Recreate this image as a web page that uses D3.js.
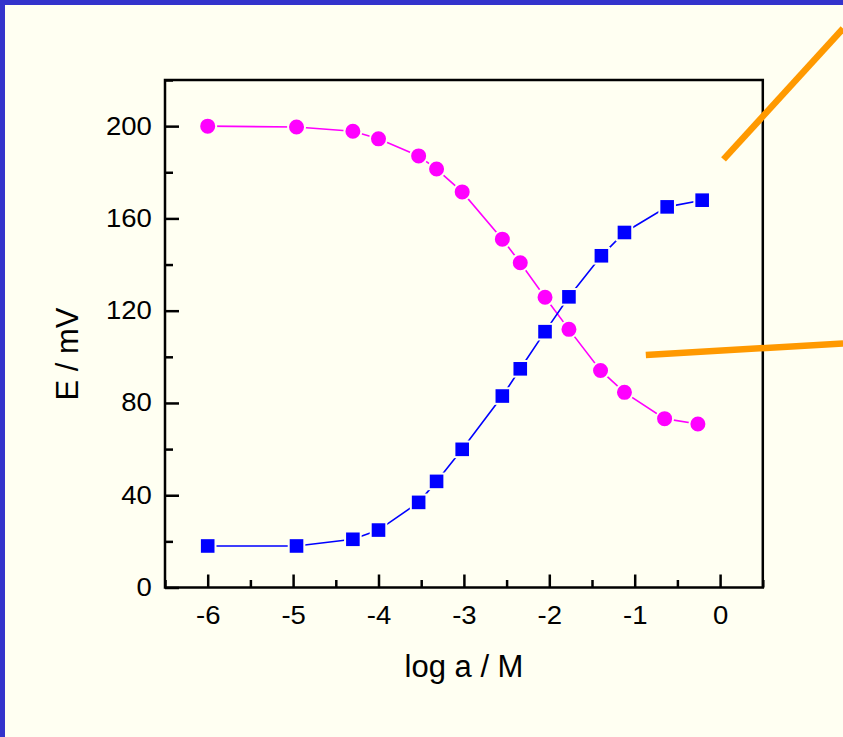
<!DOCTYPE html>
<html>
<head>
<meta charset="utf-8">
<script src="https://cdn.jsdelivr.net/npm/d3@7"></script>
<style>
  body { margin: 0; background: #fffff2; }
  svg { display: block; }
  text { font-family: Arial, "Liberation Sans", sans-serif; fill: #000; }
</style>
</head>
<body>
<svg id="chart" width="843" height="737"></svg>
<script>
// log activity (x) and potential E / mV for the two electrodes
var xMagenta = [-6, -4.96, -4.3, -4.0, -3.53, -3.32, -3.02, -2.55, -2.34, -2.05, -1.77, -1.4, -1.12, -0.65, -0.26]
var yMagenta = [200, 199.6, 197.8, 194.5, 187.1, 181.4, 171.5, 151, 140.8, 125.8, 111.9, 94.1, 84.6, 73.2, 70.9]

var xBlue = [-6, -4.96, -4.3, -4.0, -3.53, -3.32, -3.02, -2.55, -2.34, -2.05, -1.77, -1.39, -1.12, -0.62, -0.21]
var yBlue = [18, 18, 20.9, 24.9, 36.9, 46, 59.9, 83, 94.8, 110.9, 126, 143.8, 153.9, 165, 167.9]

var xTicks = [-6, -5, -4, -3, -2, -1, 0]
var xMinorTicks = [-6.5, -5.5, -4.5, -3.5, -2.5, -1.5, -0.5, 0.5]
var yTicks = [0, 40, 80, 120, 160, 200]
var yMinorTicks = [20, 60, 100, 140, 180, 220]

// orange pointer lines (in data units)
var pointers = [
    [[0.04, 185.6], [1.44, 242.3]],
    [[-0.87, 100.8], [1.44, 105.8]]
]

function drawChart()
{
    var svg = d3.select("#chart")
    const bg = "#fffff2"

    // blue frame of the slide (top and left only, the picture is cropped)
    svg.append("rect").attr("x", 0).attr("y", 0).attr("width", 843).attr("height", 5).style("fill", "#3333cc")
    svg.append("rect").attr("x", 0).attr("y", 0).attr("width", 5).attr("height", 737).style("fill", "#3333cc")

    const left = 165, right = 762.8, top = 80, bottom = 587.5

    var xScale = d3.scaleLinear().domain([-6.5, 0.5]).range([left, right])
    var yScale = d3.scaleLinear().domain([0, 220]).range([bottom, top])

    // plain hyphen for negatives, like the original
    var fmt = function (d) { return String(d) }

    // x axis, ticks pointing inward
    svg.append("g")
        .attr("transform", `translate(0, ${bottom})`)
        .call(d3.axisBottom(xScale).tickValues(xTicks).tickSizeInner(-13).tickSizeOuter(0).tickPadding(19).tickFormat(fmt))
    svg.append("g")
        .attr("transform", `translate(0, ${bottom})`)
        .call(d3.axisBottom(xScale).tickValues(xMinorTicks).tickSizeInner(-7.5).tickSizeOuter(0).tickFormat(""))

    var yAxis = svg.append("g")
        .attr("transform", `translate(${left}, 0)`)
        .call(d3.axisLeft(yScale).tickValues(yTicks).tickSizeInner(-14).tickSizeOuter(0).tickPadding(12).tickFormat(fmt))
    svg.append("g")
        .attr("transform", `translate(${left}, 0)`)
        .call(d3.axisLeft(yScale).tickValues(yMinorTicks).tickSizeInner(-8).tickSizeOuter(0).tickFormat(""))

    svg.selectAll(".domain").remove()
    svg.selectAll(".tick line").style("stroke", "#000").style("stroke-width", 2.5)
    svg.selectAll(".tick text")
        .style("font-size", "25px")
        .style("font-family", "Arial, 'Liberation Sans', sans-serif")
        .attr("transform", "scale(1.1, 1)")

    // frame
    svg.append("rect")
        .attr("x", left).attr("y", top)
        .attr("width", right - left).attr("height", bottom - top)
        .style("fill", "none").style("stroke", "#000").style("stroke-width", 2.5)

    // axis titles
    svg.append("text")
        .attr("text-anchor", "middle")
        .attr("x", 464)
        .attr("y", 677)
        .style("font-size", "31px")
        .text("log a / M")

    svg.append("g")
        .attr("transform", "translate(78, 354)")
        .append("text")
        .attr("text-anchor", "middle")
        .attr("transform", "rotate(-90)")
        .style("font-size", "31px")
        .text("E / mV")

    var magenta = xMagenta.map(function (x, i) { return {x: x, y: yMagenta[i]} })
    var blue = xBlue.map(function (x, i) { return {x: x, y: yBlue[i]} })

    var line = d3.line()
        .x(function (d) { return xScale(d.x) })
        .y(function (d) { return yScale(d.y) })

    svg.append("path").attr("d", line(magenta))
        .style("fill", "none").style("stroke", "#ff00ff").style("stroke-width", 1.6)
    svg.append("path").attr("d", line(blue))
        .style("fill", "none").style("stroke", "#0000ff").style("stroke-width", 1.6)

    svg.selectAll(".circ").data(magenta).enter().append("circle")
        .attr("class", "circ")
        .attr("cx", (d) => xScale(d.x))
        .attr("cy", (d) => yScale(d.y))
        .attr("r", 8.5)
        .style("fill", "#ff00ff").style("stroke", bg).style("stroke-width", 2)

    svg.selectAll(".sq").data(blue).enter().append("rect")
        .attr("class", "sq")
        .attr("x", (d) => xScale(d.x) - 7.8)
        .attr("y", (d) => yScale(d.y) - 7.8)
        .attr("width", 15.6).attr("height", 15.6)
        .style("fill", "#0000ff").style("stroke", bg).style("stroke-width", 2)

    // orange pointers
    var pointerLine = d3.line()
        .x(function (d) { return xScale(d[0]) })
        .y(function (d) { return yScale(d[1]) })
    svg.selectAll(".pointer").data(pointers).enter().append("path")
        .attr("class", "pointer")
        .attr("d", (d) => pointerLine(d))
        .style("fill", "none").style("stroke", "#ff9900").style("stroke-width", 6.5)
}

drawChart()
</script>
</body>
</html>
